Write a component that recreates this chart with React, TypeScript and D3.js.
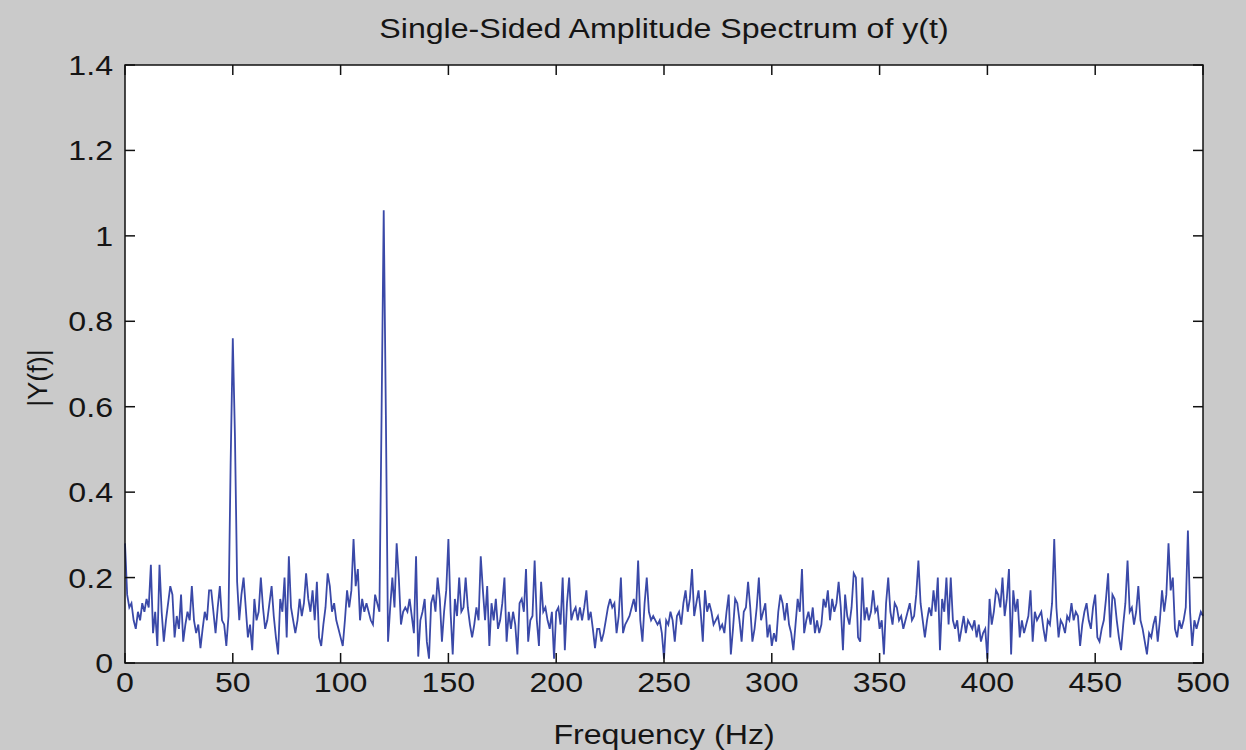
import React from "react";
import * as d3 from "d3";

const title = "Single-Sided Amplitude Spectrum of y(t)";
const xLabel = "Frequency (Hz)";
const yLabel = "|Y(f)|";
const xTicks = [0, 50, 100, 150, 200, 250, 300, 350, 400, 450, 500];
const yTicks = [0, 0.2, 0.4, 0.6, 0.8, 1, 1.2, 1.4];
const yTickLabels = ["0", "0.2", "0.4", "0.6", "0.8", "1", "1.2", "1.4"];

// |Y(f)| sampled at 1 Hz steps, 0..500 Hz
const amplitude = [
  0.28, 0.16, 0.13, 0.14, 0.10, 0.08, 0.12, 0.10, 0.14, 0.12,
  0.15, 0.13, 0.23, 0.07, 0.12, 0.04, 0.23, 0.12, 0.05, 0.10,
  0.14, 0.18, 0.16, 0.06, 0.11, 0.08, 0.16, 0.05, 0.09, 0.12,
  0.10, 0.18, 0.10, 0.07, 0.09, 0.035, 0.08, 0.12, 0.10, 0.17,
  0.17, 0.12, 0.07, 0.13, 0.18, 0.10, 0.09, 0.04, 0.11, 0.47,
  0.76, 0.53, 0.19, 0.10, 0.16, 0.20, 0.13, 0.06, 0.09, 0.03,
  0.15, 0.10, 0.12, 0.20, 0.13, 0.08, 0.10, 0.14, 0.18, 0.11,
  0.06, 0.02, 0.15, 0.12, 0.20, 0.06, 0.25, 0.13, 0.10, 0.07,
  0.10, 0.15, 0.11, 0.14, 0.21, 0.15, 0.12, 0.17, 0.10, 0.19,
  0.06, 0.04, 0.09, 0.13, 0.21, 0.18, 0.12, 0.14, 0.10, 0.08,
  0.06, 0.04, 0.10, 0.17, 0.13, 0.17, 0.29, 0.18, 0.22, 0.10,
  0.15, 0.12, 0.14, 0.12, 0.10, 0.09, 0.16, 0.14, 0.12, 0.58,
  1.06, 0.58, 0.05, 0.13, 0.20, 0.13, 0.28, 0.20, 0.09, 0.12,
  0.13, 0.12, 0.15, 0.11, 0.07, 0.25, 0.015, 0.10, 0.12, 0.15,
  0.05, 0.01, 0.14, 0.16, 0.12, 0.20, 0.15, 0.05, 0.12, 0.17,
  0.29, 0.12, 0.02, 0.15, 0.11, 0.20, 0.12, 0.13, 0.20, 0.13,
  0.09, 0.06, 0.09, 0.13, 0.10, 0.25, 0.17, 0.10, 0.18, 0.04,
  0.14, 0.10, 0.15, 0.08, 0.10, 0.14, 0.20, 0.05, 0.12, 0.08,
  0.12, 0.09, 0.02, 0.14, 0.15, 0.12, 0.22, 0.05, 0.10, 0.11,
  0.24, 0.10, 0.04, 0.19, 0.12, 0.13, 0.10, 0.08, 0.12, 0.01,
  0.12, 0.13, 0.09, 0.20, 0.03, 0.14, 0.20, 0.10, 0.12, 0.13,
  0.10, 0.13, 0.10, 0.13, 0.17, 0.10, 0.12, 0.08, 0.035, 0.08,
  0.08, 0.05, 0.07, 0.10, 0.13, 0.15, 0.13, 0.14, 0.07, 0.11,
  0.20, 0.07, 0.09, 0.10, 0.11, 0.13, 0.15, 0.12, 0.24, 0.10,
  0.05, 0.14, 0.20, 0.12, 0.10, 0.11, 0.10, 0.09, 0.10, 0.07,
  0.01, 0.10, 0.09, 0.12, 0.10, 0.05, 0.11, 0.12, 0.09, 0.14,
  0.17, 0.12, 0.15, 0.22, 0.11, 0.14, 0.17, 0.12, 0.05, 0.17,
  0.12, 0.14, 0.12, 0.09, 0.10, 0.11, 0.08, 0.09, 0.07, 0.12,
  0.16, 0.02, 0.08, 0.15, 0.14, 0.10, 0.05, 0.12, 0.13, 0.19,
  0.13, 0.05, 0.08, 0.13, 0.20, 0.10, 0.12, 0.14, 0.06, 0.09,
  0.04, 0.07, 0.05, 0.12, 0.16, 0.14, 0.10, 0.14, 0.09, 0.07,
  0.03, 0.09, 0.15, 0.12, 0.22, 0.07, 0.10, 0.12, 0.09, 0.13,
  0.07, 0.10, 0.07, 0.09, 0.15, 0.13, 0.17, 0.10, 0.15, 0.12,
  0.14, 0.19, 0.13, 0.03, 0.16, 0.11, 0.09, 0.13, 0.21, 0.20,
  0.06, 0.05, 0.20, 0.10, 0.13, 0.10, 0.12, 0.17, 0.12, 0.13,
  0.08, 0.10, 0.02, 0.14, 0.20, 0.12, 0.09, 0.14, 0.13, 0.10,
  0.11, 0.08, 0.10, 0.12, 0.14, 0.10, 0.11, 0.16, 0.24, 0.14,
  0.10, 0.06, 0.10, 0.13, 0.11, 0.17, 0.12, 0.20, 0.03, 0.15,
  0.12, 0.20, 0.09, 0.20, 0.10, 0.08, 0.10, 0.05, 0.08, 0.11,
  0.07, 0.10, 0.09, 0.08, 0.10, 0.06, 0.09, 0.05, 0.07, 0.08,
  0.01, 0.15, 0.09, 0.12, 0.17, 0.16, 0.13, 0.20, 0.11, 0.15,
  0.22, 0.02, 0.17, 0.12, 0.15, 0.06, 0.10, 0.07, 0.09, 0.11,
  0.17, 0.05, 0.12, 0.10, 0.11, 0.12, 0.08, 0.05, 0.10, 0.09,
  0.14, 0.29, 0.13, 0.06, 0.10, 0.09, 0.07, 0.11, 0.10, 0.14,
  0.10, 0.12, 0.11, 0.04, 0.09, 0.12, 0.14, 0.10, 0.08, 0.13,
  0.16, 0.06, 0.05, 0.08, 0.10, 0.15, 0.21, 0.06, 0.16, 0.15,
  0.10, 0.06, 0.03, 0.09, 0.14, 0.24, 0.12, 0.13, 0.09, 0.12,
  0.18, 0.10, 0.08, 0.05, 0.02, 0.07, 0.06, 0.09, 0.11, 0.05,
  0.10, 0.17, 0.12, 0.16, 0.28, 0.17, 0.20, 0.08, 0.06, 0.10,
  0.08, 0.10, 0.13, 0.31, 0.12, 0.04, 0.10, 0.08, 0.10, 0.12,
  0.11,
];

const W = 1246;
const H = 750;
const left = 125;
const right = 1203;
const top = 65;
const bottom = 663;
const FONT = "'Liberation Sans', Arial, Helvetica, sans-serif";
const FS = 27;
const SX = 1.19;

function SText(props: { x: number; y: number; anchor: string; children: React.ReactNode }) {
  return (
    <g transform={`translate(${props.x},${props.y}) scale(${SX},1)`}>
      <text x={0} y={0} textAnchor={props.anchor} fontFamily={FONT} fontSize={FS} fill="#151515">
        {props.children}
      </text>
    </g>
  );
}

export default function App() {
  const x = d3.scaleLinear().domain([0, 500]).range([left, right]);
  const y = d3.scaleLinear().domain([0, 1.4]).range([bottom, top]);
  const line = d3
    .line<number>()
    .x((_, i) => x(i))
    .y((d) => y(d));
  const tl = 10;
  return (
    <svg
      width={W}
      height={H}
      style={{ position: "absolute", left: 0, top: 0, background: "#cacaca" }}
    >
      <rect x={left} y={top} width={right - left} height={bottom - top} fill="#ffffff" />
      <path d={line(amplitude) || ""} fill="none" stroke="#3a49a8" strokeWidth={1.8} strokeLinejoin="miter" />
      <rect x={left} y={top} width={right - left} height={bottom - top} fill="none" stroke="#111" strokeWidth={1.5} />
      {xTicks.map((t) => (
        <g key={"xt" + t}>
          <line x1={x(t)} x2={x(t)} y1={bottom} y2={bottom - tl} stroke="#111" strokeWidth={1.5} />
          <line x1={x(t)} x2={x(t)} y1={top} y2={top + tl} stroke="#111" strokeWidth={1.5} />
          <SText x={x(t)} y={bottom + 29} anchor="middle">{String(t)}</SText>
        </g>
      ))}
      {yTicks.map((t, i) => (
        <g key={"yt" + t}>
          <line x1={left} x2={left + tl} y1={y(t)} y2={y(t)} stroke="#111" strokeWidth={1.5} />
          <line x1={right} x2={right - tl} y1={y(t)} y2={y(t)} stroke="#111" strokeWidth={1.5} />
          <SText x={113} y={y(t) + 10} anchor="end">{yTickLabels[i]}</SText>
        </g>
      ))}
      <SText x={(left + right) / 2} y={38} anchor="middle">{title}</SText>
      <SText x={(left + right) / 2} y={744} anchor="middle">{xLabel}</SText>
      <g transform={`translate(47,378) rotate(-90)`}>
        <text x={0} y={0} textAnchor="middle" fontFamily={FONT} fontSize={FS} fill="#151515">
          {yLabel}
        </text>
      </g>
    </svg>
  );
}
